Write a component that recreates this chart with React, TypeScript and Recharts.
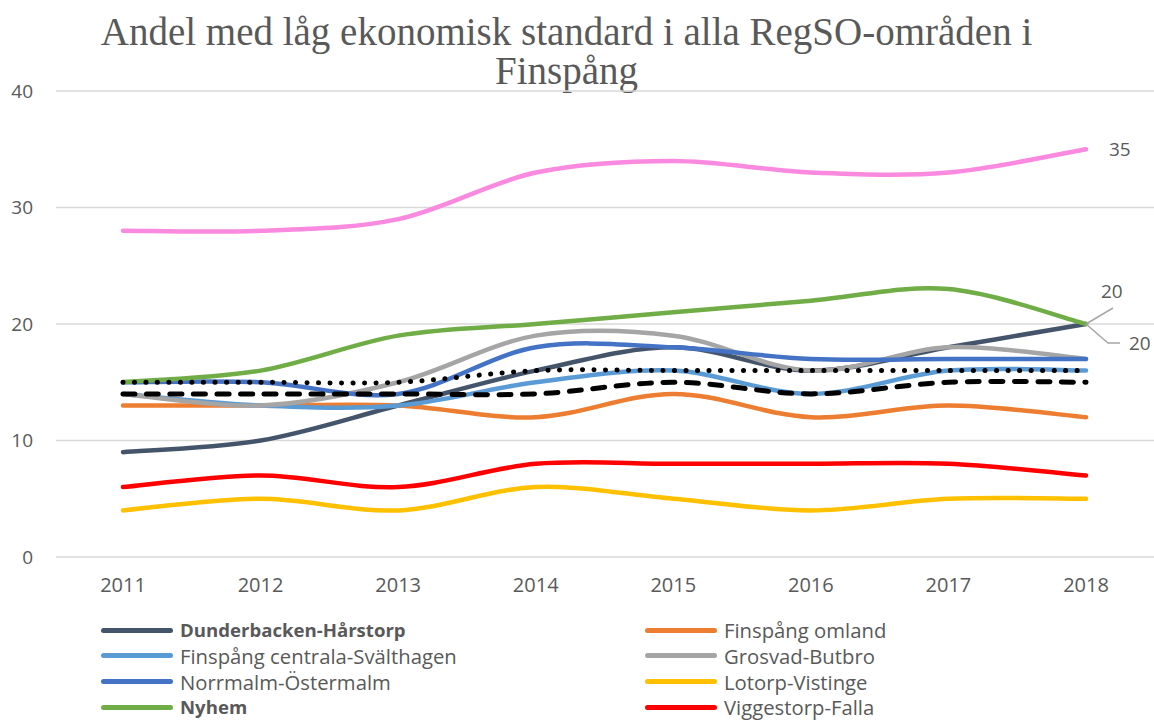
import React from 'react';
import { LineChart, Line, XAxis, YAxis, CartesianGrid } from 'recharts';

const years = ['2011', '2012', '2013', '2014', '2015', '2016', '2017', '2018'];
const yTicks = [0, 10, 20, 30, 40];
const dunderbacken = [9, 10, 13, 16, 18, 16, 18, 20];
const omland = [13, 13, 13, 12, 14, 12, 13, 12];
const centrala = [14, 13, 13, 15, 16, 14, 16, 16];
const grosvad = [14, 13, 15, 19, 19, 16, 18, 17];
const norrmalm = [15, 15, 14, 18, 18, 17, 17, 17];
const lotorp = [4, 5, 4, 6, 5, 4, 5, 5];
const nyhem = [15, 16, 19, 20, 21, 22, 23, 20];
const viggestorp = [6, 7, 6, 8, 8, 8, 8, 7];
const pinkSeries = [28, 28, 29, 33, 34, 33, 33, 35];
const dottedSeries = [15, 15, 15, 16, 16, 16, 16, 16];
const dashedSeries = [14, 14, 14, 14, 15, 14, 15, 15];

const titleLines = ['Andel med låg ekonomisk standard i alla RegSO-områden i', 'Finspång'];

type S = { key: string; name: string; values: number[]; color: string; bold?: boolean; dash?: string; legend: boolean; w: number };
const series: S[] = [
  { key: 'dun', name: 'Dunderbacken-Hårstorp', values: dunderbacken, color: '#44546A', bold: true, legend: true, w: 4.5 },
  { key: 'oml', name: 'Finspång omland', values: omland, color: '#ED7D31', legend: true, w: 4.5 },
  { key: 'cen', name: 'Finspång centrala-Svälthagen', values: centrala, color: '#5B9BD5', legend: true, w: 4.5 },
  { key: 'gro', name: 'Grosvad-Butbro', values: grosvad, color: '#A5A5A5', legend: true, w: 4.5 },
  { key: 'nor', name: 'Norrmalm-Östermalm', values: norrmalm, color: '#4472C4', legend: true, w: 4.5 },
  { key: 'lot', name: 'Lotorp-Vistinge', values: lotorp, color: '#FFC000', legend: true, w: 4.5 },
  { key: 'nyh', name: 'Nyhem', values: nyhem, color: '#70AD47', bold: true, legend: true, w: 4.5 },
  { key: 'vig', name: 'Viggestorp-Falla', values: viggestorp, color: '#FF0000', legend: true, w: 4.5 },
  { key: 'pink', name: 'pink', values: pinkSeries, color: '#FA89E0', legend: false, w: 4.5 },
  { key: 'dot', name: 'dotted', values: dottedSeries, color: '#000000', dash: '0.1 11.4', legend: false, w: 5 },
  { key: 'dash', name: 'dashed', values: dashedSeries, color: '#000000', dash: '12 11.5', legend: false, w: 5 },
];

const data = years.map((y, i) => {
  const row: any = { year: y };
  series.forEach((s) => (row[s.key] = s.values[i]));
  return row;
});

// Excel-like smoothed curve (Catmull-Rom style bezier)
const excelCurve: any = (context: any) => {
  let pts: number[][] = [];
  return {
    areaStart() {},
    areaEnd() {},
    lineStart() {
      pts = [];
    },
    point(x: number, y: number) {
      pts.push([+x, +y]);
    },
    lineEnd() {
      if (!pts.length) return;
      context.moveTo(pts[0][0], pts[0][1]);
      for (let i = 0; i < pts.length - 1; i++) {
        const p0 = pts[i - 1] || pts[i];
        const p1 = pts[i];
        const p2 = pts[i + 1];
        const p3 = pts[i + 2] || pts[i + 1];
        const c1x = p1[0] + (p2[0] - p0[0]) / 6;
        const c1y = p1[1] + (p2[1] - p0[1]) / 6;
        const c2x = p2[0] - (p3[0] - p1[0]) / 6;
        const c2y = p2[1] - (p3[1] - p1[1]) / 6;
        context.bezierCurveTo(c1x, c1y, c2x, c2y, p2[0], p2[1]);
      }
    },
  };
};

const FONT = '"Open Sans", sans-serif';
const TEXT = '#595959';

const makeLabel = (kind: 'right' | 'up' | 'down') => (props: any) => {
  const { x, y, index, value } = props;
  if (index !== years.length - 1) return <g key={`l${index}`} />;
  if (kind === 'right') {
    return (
      <text x={x + 23} y={y} dy="0.35em" fill={TEXT} fontSize={19} fontFamily={FONT}>
        {value}
      </text>
    );
  }
  if (kind === 'up') {
    return (
      <g>
        <polyline points={`${x},${y} ${x + 27},${y - 16}`} stroke="#A6A6A6" strokeWidth={1.5} fill="none" />
        <text x={x + 15} y={y - 33} dy="0.35em" fill={TEXT} fontSize={19} fontFamily={FONT}>
          {value}
        </text>
      </g>
    );
  }
  return (
    <g>
      <polyline points={`${x},${y} ${x + 22},${y + 19} ${x + 34},${y + 19}`} stroke="#A6A6A6" strokeWidth={1.5} fill="none" />
      <text x={x + 43} y={y + 19} dy="0.35em" fill={TEXT} fontSize={19} fontFamily={FONT}>
        {value}
      </text>
    </g>
  );
};

const labelKind: Record<string, 'right' | 'up' | 'down'> = { pink: 'right', nyh: 'up', dun: 'down' };

const legendItems = series.filter((s) => s.legend);

export default function App() {
  return (
    <div style={{ position: 'absolute', left: 0, top: 0, width: 1154, height: 720, background: '#fff', overflow: 'hidden' }}>
      <div
        style={{
          position: 'absolute',
          left: 0,
          top: 12,
          width: 1133,
          textAlign: 'center',
          fontFamily: '"Liberation Serif", serif',
          fontSize: 39,
          lineHeight: '39px',
          color: TEXT,
        }}
      >
        {titleLines.map((t) => (
          <div key={t}>{t}</div>
        ))}
      </div>
      <div style={{ position: 'absolute', left: 0, top: 0 }}>
        <LineChart width={1154} height={600} data={data} margin={{ top: 91, right: 0, bottom: 13, left: 0 }}>
          <CartesianGrid vertical={false} stroke="#D9D9D9" strokeWidth={1.5} />
          <XAxis
            dataKey="year"
            scale="point"
            padding={{ left: 67, right: 68 }}
            axisLine={false}
            tickLine={false}
            tickSize={0}
            tickMargin={21}
            height={30}
            tick={{ fill: TEXT, fontSize: 20, fontFamily: FONT }}
            interval={0}
          />
          <YAxis
            domain={[0, 40]}
            ticks={yTicks}
            width={56}
            axisLine={false}
            tickLine={false}
            tickSize={0}
            tickMargin={23}
            tick={{ fill: TEXT, fontSize: 19, fontFamily: FONT }}
          />
          {series.map((s) => (
            <Line
              key={s.key}
              dataKey={s.key}
              name={s.name}
              type={excelCurve}
              stroke={s.color}
              strokeWidth={s.w}
              strokeDasharray={s.dash}
              strokeLinecap="round"
              dot={false}
              activeDot={false}
              isAnimationActive={false}
              legendType={s.legend ? 'line' : 'none'}
              label={labelKind[s.key] ? makeLabel(labelKind[s.key]) : false}
            />
          ))}
        </LineChart>
      </div>
      {legendItems.map((s, i) => {
        const col = i % 2;
        const row = Math.floor(i / 2);
        const left = col === 0 ? 101 : 645;
        const top = 630 + row * 25.8;
        return (
          <div
            key={s.key}
            style={{ position: 'absolute', left, top: top - 12, height: 24, display: 'flex', alignItems: 'center', whiteSpace: 'nowrap', lineHeight: '24px' }}
          >
            <div style={{ width: 72, height: 5, borderRadius: 3, background: s.color, marginRight: 7 }} />
            <span style={{ fontFamily: FONT, fontSize: s.bold ? 18.6 : 20.3, color: TEXT, fontWeight: s.bold ? 700 : 400 }}>{s.name}</span>
          </div>
        );
      })}
    </div>
  );
}
